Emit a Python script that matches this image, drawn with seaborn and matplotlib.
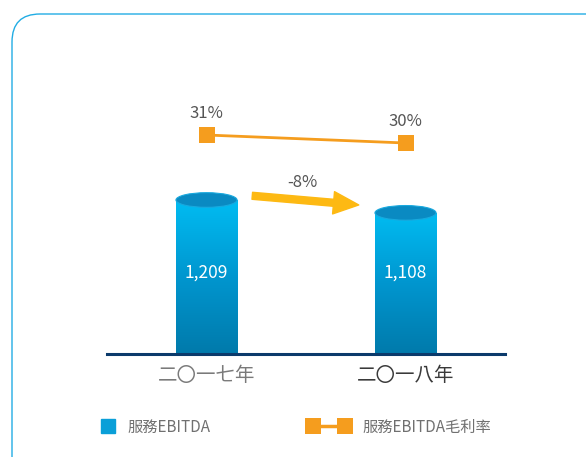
import matplotlib
matplotlib.use('Agg')
import matplotlib.pyplot as plt
import numpy as np
import seaborn as sns
from matplotlib.colors import LinearSegmentedColormap
from matplotlib.patches import Ellipse, FancyBboxPatch
from matplotlib.lines import Line2D
from matplotlib.legend_handler import HandlerLine2D
from matplotlib.transforms import IdentityTransform

# Datos
years = ['二〇一七年', '二〇一八年']
ebitda = [1209, 1108]
margin = [31, 30]
change_label = '-8%'
series_names = ['服務EBITDA', '服務EBITDA毛利率']

sns.set_style('white')
plt.rcParams['font.family'] = ['Noto Sans CJK TC', 'DejaVu Sans']

fig = plt.figure(figsize=(5.86, 4.57), dpi=100)

# Marco redondeado
frame = FancyBboxPatch((12, -40), 620, 483, boxstyle='round,pad=0,rounding_size=28',
                       transform=IdentityTransform(), facecolor='none',
                       edgecolor='#22ade4', linewidth=1.0)
fig.patches.append(frame)

ax = fig.add_axes([0.1826, 0.2254, 0.6792, 0.6433])
x = np.arange(len(years))

sns.barplot(x=years, y=ebitda, ax=ax, width=0.307, color='#00a8e0', saturation=1)
ax.set_xlim(-0.5, 1.5)
ax.set_ylim(0, 2308)

# Degradado de los cilindros
cmap = LinearSegmentedColormap.from_list('cyl', ['#007aab', '#0096cf', '#00bcf2'])
grad = np.linspace(0, 1, 256).reshape(-1, 1)
for p in ax.patches:
    x0, w, h = p.get_x(), p.get_width(), p.get_height()
    im = ax.imshow(grad, extent=[x0, x0 + w, 0, h], origin='lower', cmap=cmap,
                   aspect='auto', zorder=3)
    im.set_clip_path(p)
    top = Ellipse((x0 + w / 2, h), w, 115, facecolor='#0a8ac2',
                  edgecolor='#19a9de', linewidth=0.8, zorder=4)
    ax.add_patch(top)
ax.set_xlim(-0.5, 1.5)
ax.set_ylim(0, 2308)

for i, v in enumerate(ebitda):
    ax.text(x[i], 640, f'{v:,}', ha='center', va='center', color='white',
            fontsize=12.5, zorder=5)

# Flecha de variación
ax.annotate('', xy=(0.765, 1170), xytext=(0.23, 1242),
            arrowprops=dict(arrowstyle='simple,head_length=1.3,head_width=1.15,tail_width=0.36',
                            color='#fdb913', mutation_scale=14, shrinkA=0, shrinkB=0),
            zorder=5)
ax.text(0.48, 1350, change_label, ha='center', va='center', color='#555555', fontsize=12)

# Eje
sns.despine(ax=ax, left=True, top=True, right=True)
ax.spines['bottom'].set_color('#0b3a6b')
ax.spines['bottom'].set_linewidth(2.2)
ax.spines['bottom'].set_zorder(6)
ax.set_yticks([])
ax.tick_params(axis='x', length=0, pad=8, labelsize=14)
ax.set_xlabel('')
tick_colors = ['#7a7a7a', '#3a3a3a']
for lbl, c in zip(ax.get_xticklabels(), tick_colors):
    lbl.set_color(c)

# Margen (eje secundario)
ax2 = ax.twinx()
sns.lineplot(x=x, y=margin, ax=ax2, color='#f59d1e', linewidth=2.0, marker='s',
             markersize=11, markeredgewidth=0, zorder=5)
ax2.set_ylim(3.625, 40.375)
ax2.set_xlim(-0.5, 1.5)
ax2.axis('off')
for i, m in enumerate(margin):
    ax2.annotate(f'{m}%', (x[i], m), xytext=(0, 15.5), textcoords='offset points',
                 ha='center', va='center', color='#555555', fontsize=12)

# Leyendas
h1 = Line2D([], [], marker='s', linestyle='none', color='#0a9fd8', markersize=9.5)
h2 = Line2D([], [], marker='s', color='#f59d1e', linewidth=2.5, markersize=11,
            markeredgewidth=0)
fs = 11
fig.legend([h1], [series_names[0]], loc='center left', bbox_to_anchor=(101 / 586, 30 / 457),
           frameon=False, borderpad=0, borderaxespad=0, handlelength=0.9,
           handletextpad=0.85, fontsize=fs, labelcolor='#707070')
fig.legend([h2], [series_names[1]], loc='center left', bbox_to_anchor=(312.5 / 586, 30 / 457),
           frameon=False, borderpad=0, borderaxespad=0, handlelength=2.1,
           handletextpad=1.14, fontsize=fs, labelcolor='#707070', numpoints=2,
           handler_map={h2: HandlerLine2D(marker_pad=0, numpoints=2)})

fig.savefig('out.png', dpi=100)
